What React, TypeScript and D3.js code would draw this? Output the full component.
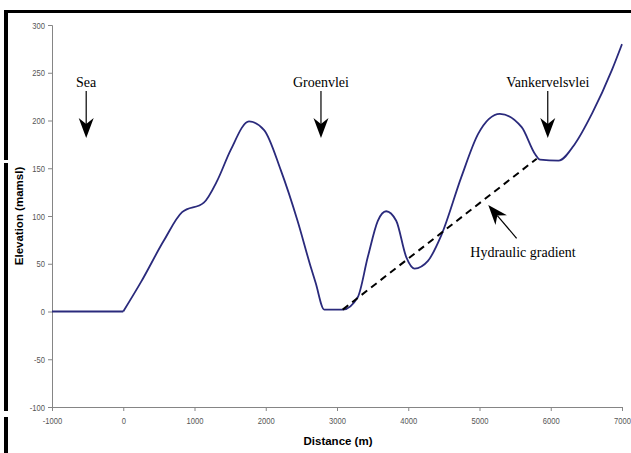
import { useEffect, useRef } from 'react';
import * as d3 from 'd3';

// sea level stretch (flat)
const seaDist = [-1000, 0];
const seaElev = [0, 0];

// land profile, distance (m) / elevation (mamsl)
const landDist = [0, 250, 568, 826, 1131, 1319, 1507, 1765, 1977, 2211, 2446, 2634, 2700, 2821, 3080, 3291, 3432, 3573, 3690, 3831, 3972, 4089, 4277, 4465, 4746, 4981, 5286, 5592, 5779, 5850, 6108, 6343, 6577, 6859, 7000];
const landElev = [0, 31, 74, 104, 114, 137, 169, 199, 190, 148, 95, 46, 30, 2, 2, 15, 57, 95, 105, 95, 57, 45, 53, 80, 141, 186, 207, 193, 165, 159, 158, 176, 207, 253, 280];

// hydraulic gradient (dashed)
const gradDist = [3080, 5803];
const gradElev = [2, 160];

const xTicks = [-1000, 0, 1000, 2000, 3000, 4000, 5000, 6000, 7000];
const yTicks = [-100, -50, 0, 50, 100, 150, 200, 250, 300];

const placeNames = ['Sea', 'Groenvlei', 'Vankervelsvlei'];
const placeDist = [-520, 2775, 5958];

const App = () => {
  const svgRef = useRef(null);
  const width = 631;
  const height = 453;

  useEffect(() => {
    document.body.style.margin = '0';
    const svg = d3.select(svgRef.current);
    svg.selectAll('*').remove();

    const x = d3.scaleLinear().domain([-1000, 7000]).range([52, 622]);
    const y = d3.scaleLinear().domain([-100, 300]).range([407, 25]);

    const lineColor = '#2a2a7c';
    const axisColor = '#858585';
    const narrow = 0.8; // squeeze tick labels like Arial Narrow

    // scanned frame edges
    svg.append('rect').attr('x', 4).attr('y', 10).attr('width', 627).attr('height', 3).attr('fill', '#000');
    [[10, 160], [163, 411], [417, 453]].forEach(([a, b]) => {
      svg.append('rect').attr('x', 4).attr('y', a).attr('width', 4).attr('height', b - a).attr('fill', '#000');
    });

    // Y axis
    const yAxis = svg.append('g')
      .attr('transform', `translate(${x(-1000)},0)`)
      .call(d3.axisLeft(y).tickValues(yTicks).tickSize(4).tickPadding(3).tickFormat(d => String(d)));
    yAxis.selectAll('text')
      .attr('x', -7 / narrow)
      .attr('transform', `scale(${narrow},1)`)
      .style('font-family', "'Liberation Sans', Arial, sans-serif")
      .style('font-size', '9.5px')
      .style('fill', '#555');

    // X axis (at -100)
    const xAxis = svg.append('g')
      .attr('transform', `translate(0,${y(-100)})`)
      .call(d3.axisBottom(x).tickValues(xTicks).tickSize(4).tickPadding(6).tickFormat(d => String(d)));
    xAxis.selectAll('text')
      .attr('transform', `scale(${narrow},1)`)
      .style('font-family', "'Liberation Sans', Arial, sans-serif")
      .style('font-size', '9.5px')
      .style('fill', '#555');

    svg.selectAll('.domain, .tick line').attr('stroke', axisColor).attr('stroke-width', 1);

    // axis titles
    svg.append('text')
      .attr('transform', `translate(23,${216}) rotate(-90)`)
      .attr('text-anchor', 'middle')
      .style('font-family', "'Liberation Sans', Arial, sans-serif")
      .style('font-weight', 'bold')
      .style('font-size', '11.5px')
      .text('Elevation (mamsl)');

    svg.append('text')
      .attr('x', 338)
      .attr('y', 445)
      .attr('text-anchor', 'middle')
      .style('font-family', "'Liberation Sans', Arial, sans-serif")
      .style('font-weight', 'bold')
      .style('font-size', '11.5px')
      .text('Distance (m)');

    // profile lines
    const line = d3.line().x(d => x(d[0])).y(d => y(d[1]));

    svg.append('path')
      .datum(seaDist.map((d, i) => [d, seaElev[i]]))
      .attr('fill', 'none')
      .attr('stroke', lineColor)
      .attr('stroke-width', 1.8)
      .attr('d', line);

    svg.append('path')
      .datum(landDist.map((d, i) => [d, landElev[i]]))
      .attr('fill', 'none')
      .attr('stroke', lineColor)
      .attr('stroke-width', 1.8)
      .attr('stroke-linejoin', 'round')
      .attr('d', line.curve(d3.curveMonotoneX));

    svg.append('path')
      .datum(gradDist.map((d, i) => [d, gradElev[i]]))
      .attr('fill', 'none')
      .attr('stroke', '#000')
      .attr('stroke-width', 2)
      .attr('stroke-dasharray', '7,5')
      .attr('d', d3.line().x(d => x(d[0])).y(d => y(d[1])));

    // stealth arrowhead pointing along (dx,dy)
    const arrow = (x1, y1, x2, y2) => {
      const ang = Math.atan2(y2 - y1, x2 - x1);
      const len = 20, half = 7.5, notch = 14;
      const ux = Math.cos(ang), uy = Math.sin(ang);
      const px = -uy, py = ux;
      const bx = x2 - ux * len, by = y2 - uy * len;
      const nx = x2 - ux * notch, ny = y2 - uy * notch;
      svg.append('line')
        .attr('x1', x1).attr('y1', y1).attr('x2', nx).attr('y2', ny)
        .attr('stroke', '#000').attr('stroke-width', 1.2);
      svg.append('path')
        .attr('d', `M${x2},${y2}L${bx + px * half},${by + py * half}L${nx},${ny}L${bx - px * half},${by - py * half}Z`)
        .attr('fill', '#000');
    };

    const serif = "'Liberation Serif', 'Times New Roman', serif";

    placeNames.forEach((name, i) => {
      const cx = x(placeDist[i]);
      svg.append('text')
        .attr('x', cx).attr('y', 87)
        .attr('text-anchor', 'middle')
        .style('font-family', serif)
        .style('font-size', '14px')
        .text(name);
      arrow(cx, 91, cx, 138);
    });

    // hydraulic gradient label
    arrow(x(5521), y(76.6), x(5123), y(111.6));
    svg.append('text')
      .attr('x', 523).attr('y', 257)
      .attr('text-anchor', 'middle')
      .style('font-family', serif)
      .style('font-size', '14px')
      .text('Hydraulic gradient');
  }, []);

  return <svg ref={svgRef} width={width} height={height} style={{ display: 'block', background: '#fff' }} />;
};

export default App;
